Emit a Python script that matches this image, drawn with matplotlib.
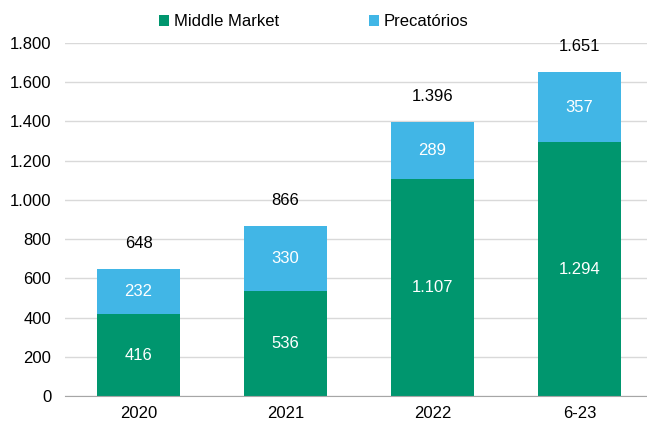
import matplotlib.pyplot as plt
import numpy as np

plt.rcParams['font.family'] = ['Liberation Sans', 'DejaVu Sans']

# --- data ---
categories = ["2020", "2021", "2022", "6-23"]
middle_market = [416, 536, 1107, 1294]
precatorios = [232, 330, 289, 357]
totals = [648, 866, 1396, 1651]
y_ticks = [0, 200, 400, 600, 800, 1000, 1200, 1400, 1600, 1800]


def fmt(v):
    # Brazilian thousands separator
    return f"{v:,}".replace(",", ".")


green = "#00966E"
blue = "#41B6E6"
fs = 12

fig = plt.figure(figsize=(6.47, 4.21), dpi=100)
ax = fig.add_axes([0.1005, 0.0594, 0.8995, 0.8386])

x = np.arange(len(categories))
w = 0.57
b1 = ax.bar(x, middle_market, w, color=green, label="Middle Market", zorder=3)
b2 = ax.bar(x, precatorios, w, bottom=middle_market, color=blue,
            label="Precatórios", zorder=3)

ax.bar_label(b1, labels=[fmt(v) for v in middle_market], label_type='center',
             color='white', fontsize=fs)
ax.bar_label(b2, labels=[fmt(v) for v in precatorios], label_type='center',
             color='white', fontsize=fs)
for xi, t in zip(x, totals):
    ax.annotate(fmt(t), (xi, t), xytext=(0, 13), textcoords='offset points',
                ha='center', va='bottom', fontsize=fs, color='black')

ax.set_xlim(-0.5, 3.46)
ax.set_ylim(0, 1800)
ax.set_xticks(x)
ax.set_xticklabels(categories, fontsize=fs)
ax.set_yticks(y_ticks)
ax.set_yticklabels([fmt(v) for v in y_ticks], fontsize=fs)
ax.tick_params(length=0, pad=7)
ax.tick_params(axis='y', pad=10)
ax.grid(axis='y', color='#D9D9D9', linewidth=1, zorder=0)
for s in ['top', 'right', 'left']:
    ax.spines[s].set_visible(False)
ax.spines['bottom'].set_color('#A6A6A6')
ax.spines['bottom'].set_zorder(4)

fig.legend(loc='center', bbox_to_anchor=(0.485, 0.948), ncol=2, frameon=False,
           fontsize=fs, handlelength=0.6, handleheight=0.6, handletextpad=0.3,
           columnspacing=5.4)

fig.savefig("out.png", dpi=100)
